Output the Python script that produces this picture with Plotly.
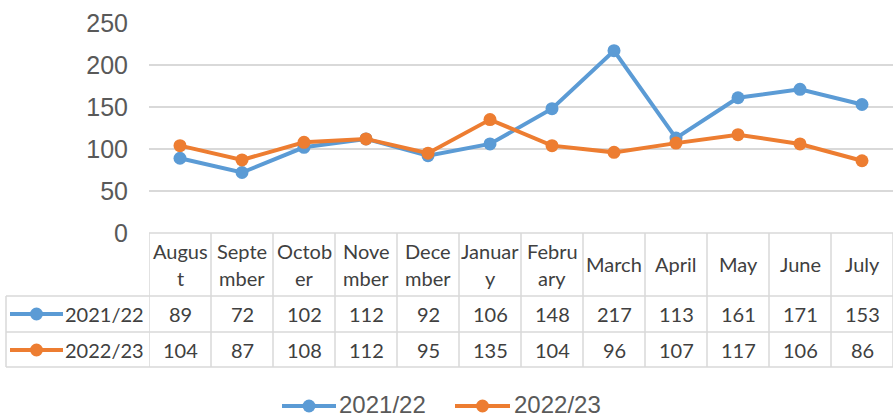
import plotly.graph_objects as go

# ---------------- data ----------------
months = ["August", "September", "October", "November", "December", "January",
          "February", "March", "April", "May", "June", "July"]
header_labels = ["Augus<br>t", "Septe<br>mber", "Octob<br>er", "Nove<br>mber", "Dece<br>mber",
                 "Januar<br>y", "Febru<br>ary", "March", "April", "May", "June", "July"]
series_names = ["2021/22", "2022/23"]
values_2122 = [89, 72, 102, 112, 92, 106, 148, 217, 113, 161, 171, 153]
values_2223 = [104, 87, 108, 112, 95, 135, 104, 96, 107, 117, 106, 86]
y_ticks = [0, 50, 100, 150, 200, 250]

# ---------------- style ----------------
colors = ["#5B9BD5", "#ED7D31"]
W, H = 894, 418
L, R, T, B = 149, 1, 23, 185
PW, PH = W - L - R, H - T - B
GRID = "#D9D9D9"
TABLE_FONT = dict(family="Lato, Noto Sans, sans-serif", size=20, color="#404040")
AX_FONT = dict(family="Liberation Sans, Arial, sans-serif", size=25, color="#595959")
LEG_FONT = dict(family="Liberation Sans, Arial, sans-serif", size=24, color="#595959")


def px(x):
    return (x - L) / PW


def py(y):
    return (H - B - y) / PH


series = [values_2122, values_2223]

fig = go.Figure()
for name, vals, col in zip(series_names, series, colors):
    fig.add_trace(go.Scatter(
        x=months, y=vals, name=name, mode="lines+markers",
        line=dict(color=col, width=4),
        marker=dict(color=col, size=13),
        cliponaxis=False, showlegend=False,
    ))

shapes = []
annotations = []

# table grid
y_top, y_head, y_r1, y_r2 = 233, 296, 332, 367
for i in range(len(months) + 1):
    shapes.append(dict(type="line", xref="x", yref="paper", x0=i - 0.5, x1=i - 0.5,
                       y0=py(y_top), y1=py(y_r2), line=dict(color=GRID, width=1.5)))
shapes.append(dict(type="line", xref="paper", yref="paper", x0=px(L), x1=px(W - R),
                   y0=py(y_top), y1=py(y_top), line=dict(color=GRID, width=1.5)))
for yy in (y_head, y_r1, y_r2):
    shapes.append(dict(type="line", xref="paper", yref="paper", x0=px(6), x1=px(W - R),
                       y0=py(yy), y1=py(yy), line=dict(color=GRID, width=1.5)))
shapes.append(dict(type="line", xref="paper", yref="paper", x0=px(6), x1=px(6),
                   y0=py(y_head), y1=py(y_r2), line=dict(color=GRID, width=1.5)))

# header labels
for m, lab in zip(months, header_labels):
    parts = lab.split("<br>")
    if len(parts) == 1:
        centers = [264]
    else:
        centers = [251, 278]
    for part, cy in zip(parts, centers):
        annotations.append(dict(xref="x", yref="paper", x=m, y=py(cy), text=part,
                                showarrow=False, font=TABLE_FONT,
                                xanchor="center", yanchor="middle"))

# data rows
row_centers = [314, 350]
for vals, cy in zip(series, row_centers):
    for m, v in zip(months, vals):
        annotations.append(dict(xref="x", yref="paper", x=m, y=py(cy), text=str(v),
                                showarrow=False, font=TABLE_FONT,
                                xanchor="center", yanchor="middle"))


def legend_key(x0, x1, cy, col):
    shapes.append(dict(type="line", xref="paper", yref="paper", x0=px(x0), x1=px(x1),
                       y0=py(cy), y1=py(cy), line=dict(color=col, width=4)))
    cx = (x0 + x1) / 2
    r = 6.5
    shapes.append(dict(type="circle", xref="paper", yref="paper",
                       x0=px(cx - r), x1=px(cx + r), y0=py(cy + r), y1=py(cy - r),
                       fillcolor=col, line=dict(color=col, width=0)))


# legend keys inside table
for name, col, cy in zip(series_names, colors, row_centers):
    legend_key(10, 63, cy, col)
    annotations.append(dict(xref="paper", yref="paper", x=px(63), y=py(cy), text=name,
                            showarrow=False, font=TABLE_FONT,
                            xanchor="left", yanchor="middle"))

# bottom legend
leg_y = 406
for name, col, (lx0, lx1, tx) in zip(series_names, colors,
                                     [(282, 336, 338), (455, 510, 513)]):
    legend_key(lx0, lx1, leg_y, col)
    annotations.append(dict(xref="paper", yref="paper", x=px(tx), y=py(404.5), text=name,
                            showarrow=False, font=LEG_FONT, borderpad=0,
                            xanchor="left", yanchor="middle"))

fig.update_layout(
    width=W, height=H,
    margin=dict(l=L, r=R, t=T, b=B, pad=0),
    paper_bgcolor="white", plot_bgcolor="white",
    xaxis=dict(type="category", range=[-0.5, len(months) - 0.5], showgrid=False,
               zeroline=False, showline=False, showticklabels=False, ticks=""),
    yaxis=dict(range=[0, 250], tickvals=y_ticks, showgrid=True, gridcolor=GRID,
               gridwidth=1.5, zeroline=False, showline=False, ticks="",
               tickfont=AX_FONT, ticklabelstandoff=20),
    shapes=shapes,
    annotations=annotations,
    showlegend=False,
)

fig.write_html("out.html", config={"displayModeBar": False},
               post_script="document.body.style.margin='0';")
